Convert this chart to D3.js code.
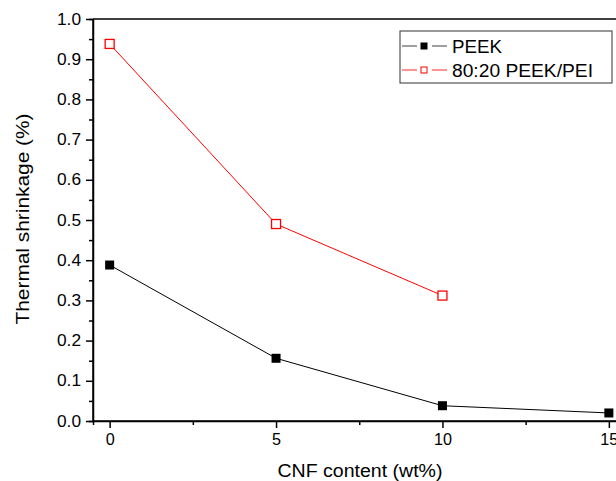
<!DOCTYPE html>
<html>
<head>
<meta charset="utf-8">
<script src="https://cdn.jsdelivr.net/npm/d3@7"></script>
<style>
  body { margin: 0; background: #fff; }
  svg { font-family: "Liberation Sans", Arial, sans-serif; }
  .tick text { font-size: 16px; fill: #000; }
  .axis-label { font-size: 17.5px; fill: #000; }
  .legend-title { font-size: 18px; fill: #000; }
</style>
</head>
<body>
<div class="chart-container"></div>
<script>
var cnf = [0, 5, 10, 15];
var peek = [0.388, 0.156, 0.038, 0.020];
var blendX = [0, 5, 10];
var blend = [0.938, 0.490, 0.312];
var xTicks = [0, 5, 10, 15];
var yTicks = [0.0, 0.1, 0.2, 0.3, 0.4, 0.5, 0.6, 0.7, 0.8, 0.9, 1.0];

var width = 616, height = 481;
var margin = {top: 19, left: 93, bottom: 60};

var x = d3.scaleLinear().domain([-0.5, 15.5]).range([margin.left, 625.5]);
var y = d3.scaleLinear().domain([0, 1]).range([421, margin.top]);

var svg = d3.select('.chart-container').append('svg')
  .attr('width', width)
  .attr('height', height);

// frame top
svg.append('line')
  .attr('x1', x(-0.5)).attr('x2', x(15.5))
  .attr('y1', y(1)).attr('y2', y(1))
  .attr('stroke', '#000').attr('stroke-width', 1.5);

// minor ticks
var gxMinor = svg.append('g')
  .attr('transform', `translate(0,${y(0)})`)
  .call(d3.axisBottom(x).tickValues([2.5, 7.5, 12.5]).tickSize(4).tickFormat(''));
var gyMinor = svg.append('g')
  .attr('transform', `translate(${x(-0.5)},0)`)
  .call(d3.axisLeft(y).tickValues(d3.range(0.05, 1, 0.1)).tickSize(4).tickFormat(''));

var gX = svg.append('g')
  .attr('transform', `translate(0,${y(0)})`)
  .call(d3.axisBottom(x).tickValues(xTicks).tickSize(7).tickPadding(6).tickFormat(d3.format('d')));
var gY = svg.append('g')
  .attr('transform', `translate(${x(-0.5)},0)`)
  .call(d3.axisLeft(y).tickValues(yTicks).tickSize(7).tickPadding(5).tickFormat(d3.format('.1f')));

[gxMinor, gyMinor, gX, gY].forEach(g => {
  g.select('.domain').attr('stroke', '#000').attr('stroke-width', 1.5);
  g.selectAll('.tick line').attr('stroke', '#000').attr('stroke-width', 1.5);
});
gX.select('.domain').attr('d', `M${x(-0.5)},0H${x(15.5)}`);
gY.select('.domain').attr('d', `M0,${y(0)}V${y(1)}`);
gX.selectAll('.tick text').attr('textLength', d => d >= 10 ? 18 : 9).attr('lengthAdjust', 'spacingAndGlyphs');
gY.selectAll('.tick text').attr('textLength', 24).attr('lengthAdjust', 'spacingAndGlyphs');

var line = d3.line().x(d => x(d[0])).y(d => y(d[1]));

var peekData = cnf.map((c, i) => [c, peek[i]]);
var blendData = blendX.map((c, i) => [c, blend[i]]);

svg.append('path').datum(peekData)
  .attr('d', line).attr('fill', 'none').attr('stroke', '#000').attr('stroke-width', 1);
svg.selectAll('.peek').data(peekData).enter().append('rect')
  .attr('class', 'peek')
  .attr('x', d => x(d[0]) - 4.5).attr('y', d => y(d[1]) - 4.5)
  .attr('width', 9).attr('height', 9).attr('fill', '#000');

svg.append('path').datum(blendData)
  .attr('d', line).attr('fill', 'none').attr('stroke', '#ff0000').attr('stroke-width', 1);
svg.selectAll('.blend').data(blendData).enter().append('rect')
  .attr('class', 'blend')
  .attr('x', d => x(d[0]) - 4.5).attr('y', d => y(d[1]) - 4.5)
  .attr('width', 9).attr('height', 9).attr('fill', '#fff')
  .attr('stroke', '#ff0000').attr('stroke-width', 1.3);

// axis labels
svg.append('text')
  .attr('class', 'axis-label')
  .attr('text-anchor', 'middle')
  .attr('textLength', 211).attr('lengthAdjust', 'spacingAndGlyphs')
  .attr('transform', `translate(29,219) rotate(-90)`)
  .text('Thermal shrinkage (%)');
svg.append('text')
  .attr('class', 'axis-label')
  .attr('text-anchor', 'middle')
  .attr('textLength', 165).attr('lengthAdjust', 'spacingAndGlyphs')
  .attr('x', 360).attr('y', 477)
  .text('CNF content (wt%)');

// legend
var legend = svg.append('g').attr('transform', 'translate(400,31)');
legend.append('rect')
  .attr('width', 212).attr('height', 52)
  .attr('fill', '#fff').attr('stroke', '#333').attr('stroke-width', 1);

function legendEntry(dy, title, color, lineColor, fill) {
  var entry = legend.append('g').attr('transform', `translate(0,${dy})`);
  entry.append('path').attr('d', 'M2,0H17M32,0H47')
    .attr('stroke', lineColor).attr('stroke-width', 1.5);
  entry.append('rect').attr('x', 21).attr('y', -3).attr('width', 6).attr('height', 6)
    .attr('fill', fill).attr('stroke', color).attr('stroke-width', 1);
  entry.append('text').attr('class', 'legend-title')
    .attr('x', 52).attr('y', 7).attr('textLength', title.length > 5 ? 141 : 50)
    .attr('lengthAdjust', 'spacingAndGlyphs').text(title);
}
legendEntry(15, 'PEEK', '#000', '#808080', '#000');
legendEntry(39, '80:20 PEEK/PEI', '#ff0000', '#ff7070', '#fff');
</script>
</body>
</html>
